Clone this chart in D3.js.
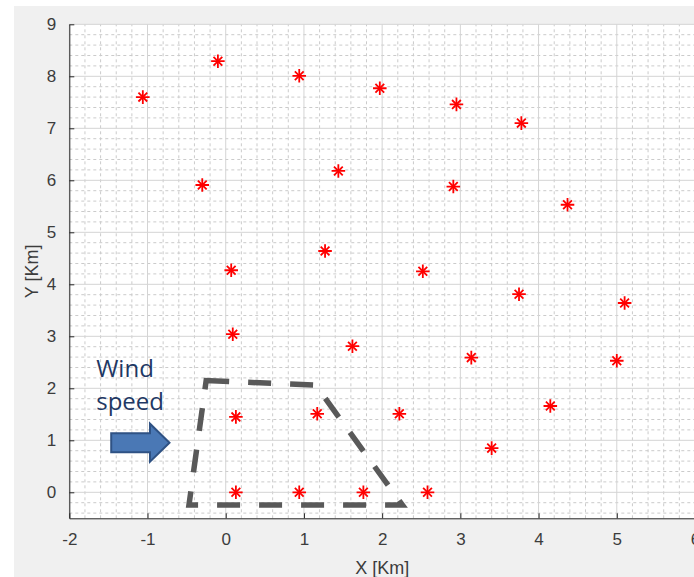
<!DOCTYPE html>
<html>
<head>
<meta charset="utf-8">
<script src="https://cdn.jsdelivr.net/npm/d3@7"></script>
<style>
  body { margin: 0; background: #fff; }
  svg { display: block; }
</style>
</head>
<body>
<svg width="694" height="577"></svg>
<script>
// turbine positions [Km]
const turbineX = [-1.06, -0.10, 0.94, 1.97, 2.95, 3.78,
                  -0.30, 1.44, 2.91, 4.37,
                  0.07, 1.27, 2.52, 3.75, 5.10,
                  0.09, 1.62, 3.14, 5.00,
                  0.13, 1.17, 2.22, 4.15, 3.40,
                  0.13, 0.94, 1.76, 2.58];
const turbineY = [7.60, 8.29, 8.01, 7.77, 7.46, 7.10,
                  5.91, 6.18, 5.88, 5.53,
                  4.27, 4.64, 4.25, 3.81, 3.64,
                  3.04, 2.81, 2.59, 2.53,
                  1.45, 1.51, 1.51, 1.66, 0.85,
                  0.00, 0.00, 0.00, 0.00];

// dashed region outline
const regionX = [-0.25, 1.15, 2.26, -0.47];
const regionY = [2.15, 2.06, -0.245, -0.245];

const xTicks = [-2, -1, 0, 1, 2, 3, 4, 5, 6];
const yTicks = [0, 1, 2, 3, 4, 5, 6, 7, 8, 9];

const svg = d3.select("svg");

svg.append("rect")
    .attr("x", 14).attr("y", 6)
    .attr("width", 680).attr("height", 571)
    .attr("fill", "#f0f0f0");

const x = d3.scaleLinear().domain([-2, 6]).range([69.3, 695]);
const y = d3.scaleLinear().domain([-0.5, 9]).range([518.3, 24.3]);

const plot = svg.append("g");

plot.append("rect")
    .attr("x", x(-2)).attr("y", y(9))
    .attr("width", x(6) - x(-2)).attr("height", y(-0.5) - y(9))
    .attr("fill", "#fff");

// minor grid
const xMinor = d3.range(-2, 6.001, 0.2).filter(v => Math.abs(v - Math.round(v)) > 0.01);
const yMinor = d3.range(-0.4, 9.001, 0.2).filter(v => Math.abs(v - Math.round(v)) > 0.01);

plot.selectAll(".minor-x")
    .data(xMinor)
    .enter()
    .append("line")
    .attr("x1", d => x(d)).attr("x2", d => x(d))
    .attr("y1", y(-0.5)).attr("y2", y(9))
    .attr("stroke", "#cbcbcb")
    .attr("stroke-dasharray", "3,3");

plot.selectAll(".minor-y")
    .data(yMinor)
    .enter()
    .append("line")
    .attr("y1", d => y(d)).attr("y2", d => y(d))
    .attr("x1", x(-2)).attr("x2", x(6))
    .attr("stroke", "#cbcbcb")
    .attr("stroke-dasharray", "3,3");

// major grid
plot.selectAll(".major-x")
    .data(xTicks)
    .enter()
    .append("line")
    .attr("x1", d => x(d)).attr("x2", d => x(d))
    .attr("y1", y(-0.5)).attr("y2", y(9))
    .attr("stroke", "#d4d4d4");

plot.selectAll(".major-y")
    .data(yTicks)
    .enter()
    .append("line")
    .attr("y1", d => y(d)).attr("y2", d => y(d))
    .attr("x1", x(-2)).attr("x2", x(6))
    .attr("stroke", "#d4d4d4");

// axes
const xAxis = svg.append("g")
    .attr("transform", "translate(0," + y(-0.5) + ")")
    .call(d3.axisBottom(x).tickValues(xTicks).tickFormat(d => String(d)).tickSizeInner(-5).tickSizeOuter(0).tickPadding(15));

const yAxis = svg.append("g")
    .attr("transform", "translate(" + x(-2) + ",0)")
    .call(d3.axisLeft(y).tickValues(yTicks).tickFormat(d => String(d)).tickSizeInner(-5).tickSizeOuter(0).tickPadding(13));

[xAxis, yAxis].forEach(a => {
    a.select(".domain").attr("stroke", "#262626").attr("stroke-width", 1);
    a.selectAll(".tick line").attr("stroke", "#262626");
    a.selectAll(".tick text")
        .attr("fill", "#3c3c3c")
        .attr("font-size", "17px")
        .attr("font-family", "Liberation Sans, Arial, sans-serif");
});

svg.append("text")
    .attr("x", (x(-2) + x(6)) / 2)
    .attr("y", 574)
    .attr("text-anchor", "middle")
    .attr("font-size", "18px")
    .attr("font-family", "Liberation Sans, Arial, sans-serif")
    .attr("fill", "#3c3c3c")
    .text("X [Km]");

svg.append("text")
    .attr("transform", "translate(38," + (y(-0.5) + y(9)) / 2 + ") rotate(-90)")
    .attr("text-anchor", "middle")
    .attr("font-size", "18px")
    .attr("font-family", "Liberation Sans, Arial, sans-serif")
    .attr("fill", "#3c3c3c")
    .text("Y [Km]");

// dashed region
const line = d3.line().x(d => x(d[0])).y(d => y(d[1]));
const regionPts = regionX.map((v, i) => [v, regionY[i]]);

plot.append("path")
    .attr("d", line(regionPts) + "Z")
    .attr("fill", "none")
    .attr("stroke", "#595959")
    .attr("stroke-width", 5.5)
    .attr("stroke-dasharray", "23,19");

// turbines
const plus = d3.symbol().type(d3.symbolPlus).size(62);
const times = d3.symbol().type(d3.symbolTimes).size(52);

const pts = plot.selectAll(".turbine")
    .data(turbineX.map((v, i) => ({ x: v, y: turbineY[i] })))
    .enter()
    .append("g")
    .attr("transform", d => "translate(" + x(d.x) + "," + y(d.y) + ")");

pts.append("path").attr("d", plus()).attr("fill", "none").attr("stroke", "#ff0000").attr("stroke-width", 1.8);
pts.append("path").attr("d", times()).attr("fill", "none").attr("stroke", "#ff0000").attr("stroke-width", 1.8);

// wind annotation
const windX = -1.656, windY = 2.21;
const wind = svg.append("text")
    .attr("x", x(windX))
    .attr("y", y(windY))
    .attr("font-size", "24px")
    .attr("font-family", "Open Sans, sans-serif")
    .attr("fill", "#1f3864");
wind.append("tspan").attr("x", x(windX)).text("Wind");
wind.append("tspan").attr("x", x(windX)).attr("dy", 33).text("speed");

const arrowStart = -1.464, arrowTip = -0.719, arrowY = 0.954;
const ax0 = x(arrowStart), ax1 = x(arrowTip), ay = y(arrowY);
const headX = ax1 - 19.5;
svg.append("path")
    .attr("d", [
        "M", ax0, ay - 9.5,
        "L", headX, ay - 9.5,
        "L", headX, ay - 19,
        "L", ax1, ay,
        "L", headX, ay + 19,
        "L", headX, ay + 9.5,
        "L", ax0, ay + 9.5, "Z"
    ].join(" "))
    .attr("fill", "#4a78b5")
    .attr("stroke", "#2f5284")
    .attr("stroke-width", 2);
</script>
</body>
</html>
